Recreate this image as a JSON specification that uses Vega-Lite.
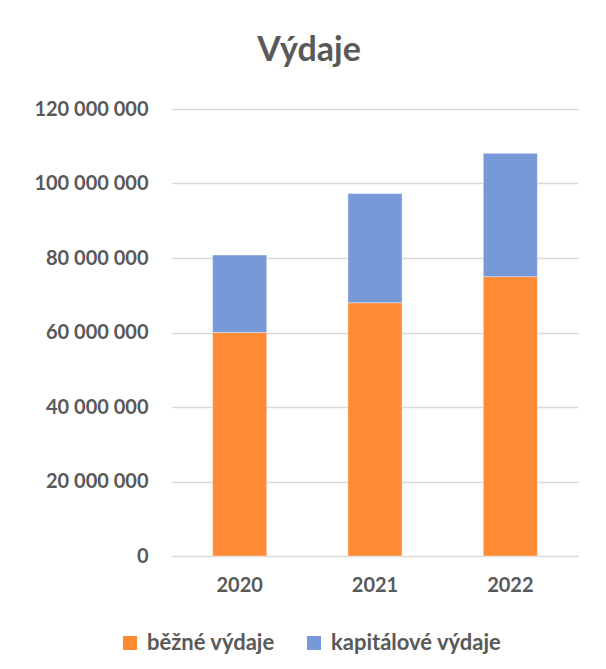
{
  "$schema": "https://vega.github.io/schema/vega-lite/v6.json",
  "width": 406,
  "height": 447,
  "autosize": {"type": "none"},
  "padding": {"left": 172, "top": 109, "right": 28, "bottom": 113},
  "background": "white",
  "config": {
    "locale": {"number": {"decimal": ",", "thousands": " ", "grouping": [3], "currency": ["", " Kč"]}},
    "view": {"stroke": null},
    "font": "Lato"
  },
  "title": {
    "text": "Výdaje",
    "font": "Lato",
    "fontSize": 34,
    "fontWeight": "bold",
    "color": "#595959",
    "anchor": "middle",
    "offset": 31,
    "dx": -66
  },
  "data": {
    "values": [
      {"year": "2020", "type": "běžné výdaje", "value": 60000000},
      {"year": "2020", "type": "kapitálové výdaje", "value": 20800000},
      {"year": "2021", "type": "běžné výdaje", "value": 68000000},
      {"year": "2021", "type": "kapitálové výdaje", "value": 29300000},
      {"year": "2022", "type": "běžné výdaje", "value": 75000000},
      {"year": "2022", "type": "kapitálové výdaje", "value": 33100000}
    ]
  },
  "mark": {"type": "bar", "stroke": "white", "strokeOpacity": 0.4, "strokeWidth": 1},
  "encoding": {
    "x": {
      "field": "year",
      "type": "nominal",
      "scale": {"paddingInner": 0.6, "paddingOuter": 0.3},
      "axis": {
        "title": null,
        "labelAngle": 0,
        "ticks": false,
        "domain": false,
        "labelPadding": 19,
        "labelFont": "Lato",
        "labelFontSize": 20,
        "labelFontWeight": "bold",
        "labelColor": "#595959"
      }
    },
    "y": {
      "field": "value",
      "type": "quantitative",
      "stack": "zero",
      "scale": {"domain": [0, 120000000]},
      "axis": {
        "title": null,
        "values": [0, 20000000, 40000000, 60000000, 80000000, 100000000, 120000000],
        "format": ",d",
        "ticks": false,
        "domain": false,
        "labelPadding": 24,
        "labelFont": "Lato",
        "labelFontSize": 20,
        "labelFontWeight": "bold",
        "labelColor": "#595959",
        "gridColor": "#D9D9D9",
        "gridWidth": 1.5
      }
    },
    "color": {
      "field": "type",
      "type": "nominal",
      "scale": {"domain": ["běžné výdaje", "kapitálové výdaje"], "range": ["#FF8A35", "#7799D8"]},
      "legend": {
        "title": null,
        "orient": "none",
        "direction": "horizontal",
        "legendX": -53,
        "legendY": 523,
        "padding": 0,
        "symbolType": "square",
        "symbolSize": 196,
        "symbolStrokeWidth": 0,
        "labelFont": "Lato",
        "labelFontSize": 22,
        "labelFontWeight": "bold",
        "labelColor": "#595959",
        "labelOffset": 6,
        "labelLimit": 400,
        "columnPadding": 28
      }
    },
    "order": {"field": "type", "sort": "ascending"}
  }
}
